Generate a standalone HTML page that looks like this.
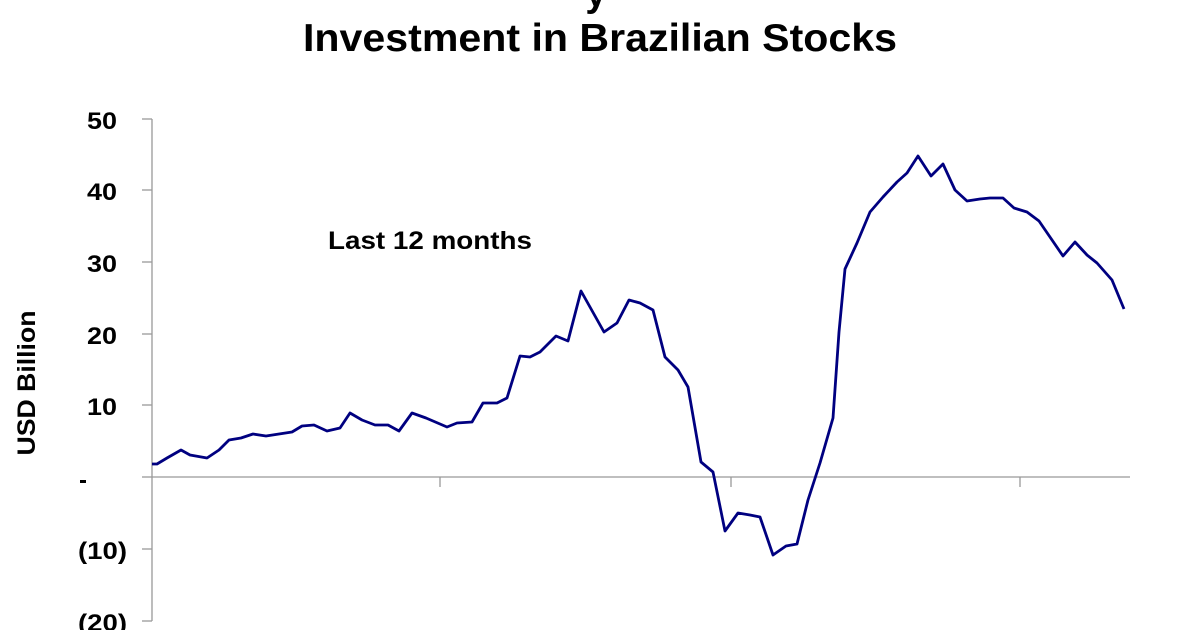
<!DOCTYPE html>
<html><head><meta charset="utf-8"><style>
html,body{margin:0;padding:0;background:#fff;}
</style></head><body>
<svg width="1200" height="630" xmlns="http://www.w3.org/2000/svg" font-family="Liberation Sans, Arial, sans-serif" font-weight="bold">
<text x="596" y="6" font-size="38" text-anchor="middle">y</text>
<text x="303" y="51" font-size="39" textLength="594" lengthAdjust="spacingAndGlyphs">Investment in Brazilian Stocks</text>
<g stroke="#999" stroke-width="1.3" fill="none">
<line x1="152" y1="119" x2="152" y2="621"/>
<line x1="152" y1="477" x2="1130" y2="477"/>
<line x1="142" y1="119" x2="152" y2="119"/>
<line x1="142" y1="190" x2="152" y2="190"/>
<line x1="142" y1="262" x2="152" y2="262"/>
<line x1="142" y1="334" x2="152" y2="334"/>
<line x1="142" y1="405" x2="152" y2="405"/>
<line x1="142" y1="477" x2="152" y2="477"/>
<line x1="142" y1="549" x2="152" y2="549"/>
<line x1="142" y1="621" x2="152" y2="621"/>
<line x1="440" y1="477" x2="440" y2="487"/>
<line x1="731" y1="477" x2="731" y2="487"/>
<line x1="1020" y1="477" x2="1020" y2="487"/>
</g>
<g font-size="24">
<text x="87" y="129" textLength="30" lengthAdjust="spacingAndGlyphs">50</text>
<text x="87" y="200" textLength="30" lengthAdjust="spacingAndGlyphs">40</text>
<text x="87" y="272" textLength="30" lengthAdjust="spacingAndGlyphs">30</text>
<text x="87" y="344" textLength="30" lengthAdjust="spacingAndGlyphs">20</text>
<text x="87" y="415" textLength="30" lengthAdjust="spacingAndGlyphs">10</text>
<rect x="80" y="480" width="6" height="3" fill="#000"/>
<text x="78" y="559" textLength="49" lengthAdjust="spacingAndGlyphs">(10)</text>
<text x="78" y="631" textLength="49" lengthAdjust="spacingAndGlyphs">(20)</text>
</g>
<text transform="translate(35,383) rotate(-90)" font-size="25" text-anchor="middle" textLength="145" lengthAdjust="spacingAndGlyphs">USD Billion</text>
<text x="328" y="249" font-size="25" textLength="204" lengthAdjust="spacingAndGlyphs">Last 12 months</text>
<polyline fill="none" stroke="#000080" stroke-width="2.8" stroke-linejoin="round" points="152,464 157,464 167,458 181,450 190,455 207,458 219,450 229,440 241,438 253,434 266,436 279,434 292,432 302,426 314,425 327,431 340,428 350,413 362,420 375,425 388,425 399,431 412,413 426,418 447,427 457,423 472,422 483,403 497,403 507,398 520,356 530,357 540,352 556,336 568,341 581,291 604,332 617,323 629,300 640,303 653,310 665,357 678,370 688,387 701,462 713,472 725,531 738,513 750,515 760,517 773,555 786,546 797,544 808,500 820,463 833,418 839,332 845,269 857,243 870,212 883,197 897,182 907,173 918,156 931,176 943,164 955,190 967,201 980,199 990,198 1003,198 1014,208 1027,212 1039,221 1063,256 1075,242 1087,255 1097,263 1112,280 1124,309"/>
</svg>
</body></html>
